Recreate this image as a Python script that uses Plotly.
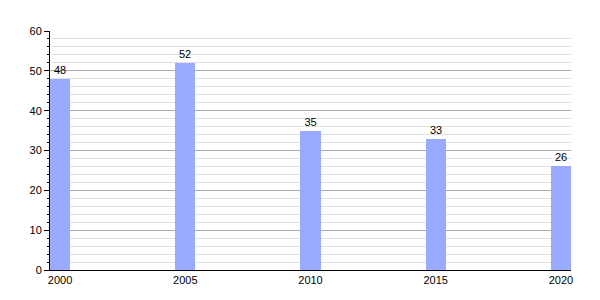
import plotly.graph_objects as go

years = [2000, 2005, 2010, 2015, 2020]
values = [48, 52, 35, 33, 26]
labels = ["2000", "2005", "2010", "2015", "2020"]

xpos = [y + 0.4 for y in years]

fig = go.Figure()
fig.add_trace(go.Bar(
    x=xpos, y=values, width=0.8,
    marker=dict(color="#99aaff", line=dict(width=0)),
    text=[str(v) for v in values], textposition="outside",
    textfont=dict(size=11, color="#000000"),
    cliponaxis=False,
))

fig.update_layout(
    width=600, height=300,
    margin=dict(l=50, r=29, t=31, b=30),
    plot_bgcolor="white", paper_bgcolor="white",
    font=dict(family="Liberation Sans, Arial, sans-serif", size=11, color="#000000"),
    showlegend=False,
    xaxis=dict(
        range=[2000, 2020.8], tickvals=xpos, ticktext=labels,
        showgrid=False, zeroline=False, showline=True, linecolor="#000", linewidth=1,
        ticks="", ticklabelstandoff=0, tickfont=dict(size=11, color="#000000"),
    ),
    yaxis=dict(
        range=[0, 60], tickvals=[0, 10, 20, 30, 40, 50, 60],
        showgrid=True, gridcolor="#aaaaaa", gridwidth=1,
        zeroline=False, showline=True, linecolor="#000", linewidth=1,
        ticks="outside", ticklen=5, tickcolor="#000", tickfont=dict(size=11, color="#000000"),
        minor=dict(dtick=2, showgrid=True, gridcolor="#e0e0e0", ticks="outside", ticklen=2, tickcolor="#000"),
    ),
    bargap=0,
)

fig.write_html("out.html")
